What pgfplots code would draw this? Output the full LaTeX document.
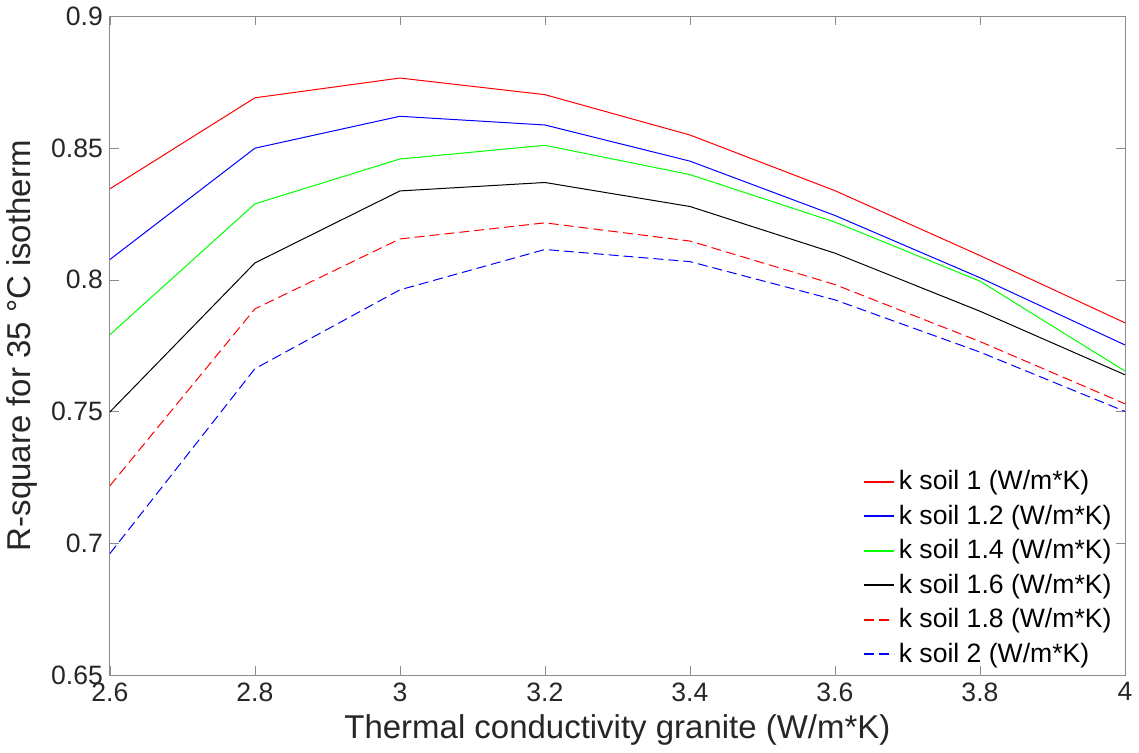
\documentclass[border=0pt]{standalone}
\usepackage{pgfplots}
\pgfplotsset{compat=1.18}
\usepackage{fontspec}
\setmainfont{Liberation Sans}
\begin{document}
\begin{tikzpicture}
\begin{axis}[
  scale only axis,
  width=508pt, height=330pt,
  xmin=2.6, xmax=4, ymin=0.65, ymax=0.9,
  xtick={2.6,2.8,3,3.2,3.4,3.6,3.8,4},
  ytick={0.65,0.7,0.75,0.8,0.85,0.9},
  /pgf/number format/assume math mode=true,
  tick label style={font=\fontsize{13.3}{15}\selectfont, text=black!85},
  label style={font=\fontsize{16.5}{19}\selectfont, text=black!85},
  xlabel={Thermal conductivity granite (W/m*K)},
  ylabel={R-square for 35 °C isotherm},
  axis line style={black!45},
  major tick style={black!45},
  tick align=inside,
  major tick length=4.5pt,
  legend style={draw=none, fill=none, at={(0.993,0.006)}, anchor=south east,
    font=\fontsize{13.3}{15}\selectfont, row sep=2.1pt, inner sep=1pt},
  legend cell align=left,
  legend image code/.code={\draw[#1, line width=1pt] (0pt,0pt) -- (15pt,0pt);},
]
\addplot[color=red, line width=0.5pt] coordinates {(2.6,0.8345) (2.8,0.869) (3.0,0.8765) (3.2,0.8702) (3.4,0.8549) (3.6,0.8338) (3.8,0.8092) (4.0,0.7837)};
\addlegendentry{k soil 1 (W/m*K)}
\addplot[color=blue, line width=0.5pt] coordinates {(2.6,0.8077) (2.8,0.8499) (3.0,0.862) (3.2,0.8587) (3.4,0.845) (3.6,0.8244) (3.8,0.8008) (4.0,0.7753)};
\addlegendentry{k soil 1.2 (W/m*K)}
\addplot[color=green, line width=0.5pt] coordinates {(2.6,0.7792) (2.8,0.8288) (3.0,0.8458) (3.2,0.851) (3.4,0.8399) (3.6,0.8219) (3.8,0.7995) (4.0,0.7654)};
\addlegendentry{k soil 1.4 (W/m*K)}
\addplot[color=black, line width=0.5pt] coordinates {(2.6,0.7499) (2.8,0.8064) (3.0,0.8337) (3.2,0.8369) (3.4,0.8278) (3.6,0.8101) (3.8,0.7881) (4.0,0.764)};
\addlegendentry{k soil 1.6 (W/m*K)}
\addplot[color=red, line width=0.5pt, dash pattern=on 5pt off 2.5pt] coordinates {(2.6,0.7219) (2.8,0.789) (3.0,0.8155) (3.2,0.8216) (3.4,0.8147) (3.6,0.7982) (3.8,0.7766) (4.0,0.753)};
\addlegendentry{k soil 1.8 (W/m*K)}
\addplot[color=blue, line width=0.5pt, dash pattern=on 5pt off 2.5pt] coordinates {(2.6,0.6962) (2.8,0.7663) (3.0,0.7962) (3.2,0.8115) (3.4,0.8069) (3.6,0.7924) (3.8,0.7726) (4.0,0.7501)};
\addlegendentry{k soil 2 (W/m*K)}
\end{axis}
\end{tikzpicture}
\end{document}
